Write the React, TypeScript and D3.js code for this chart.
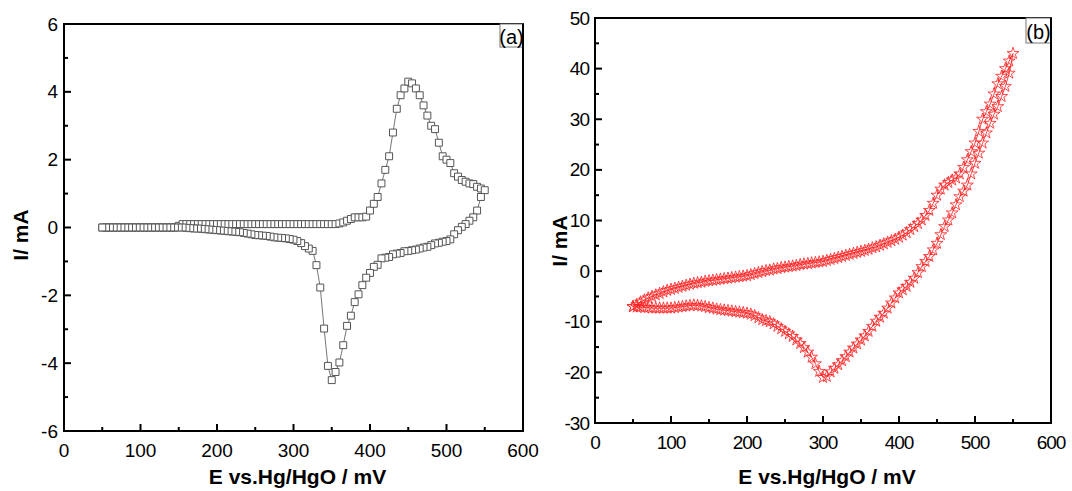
import React from 'react';
import * as d3 from 'd3';

// Potential sweep (mV)
const eForward = [50,55,60,65,70,75,80,85,90,95,100,105,110,115,120,125,130,135,140,145,150,155,160,165,170,175,180,185,190,195,200,205,210,215,220,225,230,235,240,245,250,255,260,265,270,275,280,285,290,295,300,305,310,315,320,325,330,335,340,345,350,355,360,365,370,375,380,385,390,395,400,405,410,415,420,425,430,435,440,445,450,455,460,465,470,475,480,485,490,495,500,505,510,515,520,525,530,535,540,545,550];
const eReverse = [545,540,535,530,525,520,515,510,505,500,495,490,485,480,475,470,465,460,455,450,445,440,435,430,425,420,415,410,405,400,395,390,385,380,375,370,365,360,355,350,345,340,335,330,325,320,315,310,305,300,295,290,285,280,275,270,265,260,255,250,245,240,235,230,225,220,215,210,205,200,195,190,185,180,175,170,165,160,155,150,145,140,135,130,125,120,115,110,105,100,95,90,85,80,75,70,65,60,55,50];

// Panel (a) current (mA)
const iForwardA = [0,0,0,0,0,0,0,0,0,0,0,0,0,0,0,0,0,0,0,0,
  0.05,
  0.1,0.1,0.1,0.1,0.1,0.1,0.1,0.1,0.1,0.1,0.1,0.1,0.1,0.1,0.1,0.1,0.1,0.1,0.1,0.1,0.1,0.1,0.1,0.1,0.1,0.1,0.1,0.1,0.1,0.1,0.1,0.1,0.1,0.1,0.1,0.1,0.1,0.1,0.1,0.1,0.1,
  0.12,0.15,0.2,0.25,0.3,0.3,0.3,0.32,0.5,0.7,0.9,1.3,1.7,2.1,2.8,3.5,3.9,4.1,4.3,4.25,4.1,3.9,3.6,3.3,3.0,2.9,2.5,2.1,2.0,1.9,1.6,1.5,1.4,1.35,1.3,1.28,1.2,1.15,1.1];
const iReverseA = [0.9,0.5,0.3,0.2,0.1,0.02,-0.08,-0.2,-0.35,-0.4,
  -0.42,-0.45,-0.47,-0.52,-0.57,-0.59,-0.62,-0.65,-0.67,-0.69,
  -0.7,-0.75,-0.77,-0.79,-0.87,-0.89,-0.91,-1.1,-1.16,-1.34,
  -1.48,-1.7,-1.97,-2.2,-2.6,-2.9,-3.47,-3.98,-4.26,-4.5,
  -4.08,-2.98,-1.77,-1.11,-0.69,-0.62,-0.55,-0.46,-0.4,-0.36,
  -0.34,-0.32,-0.31,-0.3,-0.29,-0.27,-0.25,-0.24,-0.23,-0.22,
  -0.2,-0.18,-0.16,-0.14,-0.13,-0.12,-0.11,-0.1,-0.09,-0.08,
  -0.07,-0.06,-0.05,-0.04,-0.03,-0.03,-0.02,-0.01,0,0,
  0,0,0,0,0,0,0,0,0,0,0,0,0,0,0,0,0,0,0,0];

// Panel (b) current (mA)
const iForwardB = [-7.0,-6.6,-6.1,-5.7,-5.3,-5.0,-4.7,-4.4,-4.1,-3.8,
  -3.6,-3.4,-3.2,-3.0,-2.8,-2.6,-2.4,-2.3,-2.2,-2.0,
  -1.9,-1.8,-1.7,-1.6,-1.5,-1.4,-1.3,-1.2,-1.1,-1.0,
  -0.9,-0.7,-0.5,-0.3,-0.1,0.1,0.2,0.4,0.5,0.7,
  0.8,0.9,1.0,1.1,1.3,1.4,1.5,1.6,1.7,1.8,
  1.9,2.1,2.3,2.5,2.7,2.9,3.1,3.3,3.5,3.7,
  3.9,4.1,4.3,4.6,4.8,5.1,5.4,5.7,6.0,6.3,
  6.7,7.1,7.6,8.2,8.8,9.4,10.1,11.0,12.0,13.4,
  15.0,16.2,17.0,17.5,18.0,18.4,19.2,20.5,22.0,23.6,
  25.3,27.6,30.0,31.5,33.0,35.0,37.0,38.5,40.0,41.5,
  43.0];
const iReverseB = [39.1,36.5,34.5,32.5,31.0,29.2,27.3,25.3,23.3,21.3,
  19.2,17.0,15.8,14.7,13.1,11.5,10.1,8.8,7.2,5.5,
  4.2,2.9,1.9,0.9,-0.3,-1.4,-2.2,-3.0,-3.7,-4.3,
  -5.3,-6.3,-7.3,-8.3,-9.1,-9.9,-10.9,-11.9,-12.8,-13.6,
  -14.4,-15.2,-16.0,-16.9,-17.7,-18.5,-19.2,-19.9,-20.8,-21.0,
  -19.8,-18.3,-17.0,-16.0,-15.1,-14.3,-13.6,-12.9,-12.4,-11.9,
  -11.4,-10.9,-10.4,-10.0,-9.8,-9.6,-9.2,-8.8,-8.5,-8.3,
  -8.2,-8.1,-8.0,-7.9,-7.8,-7.7,-7.6,-7.5,-7.3,-7.2,
  -7.0,-6.9,-6.8,-6.7,-6.8,-6.9,-7.0,-7.1,-7.2,-7.3,
  -7.3,-7.3,-7.3,-7.3,-7.3,-7.2,-7.2,-7.1,-7.1,-7.0];

const xTicks = [0,100,200,300,400,500,600];
const xTickLabels = ['0','100','200','300','400','500','600'];
const xMinor = [50,150,250,350,450,550];
const yTicksA = [-6,-4,-2,0,2,4,6];
const yTickLabelsA = ['-6','-4','-2','0','2','4','6'];
const yMinorA = [-5,-3,-1,1,3,5];
const yTicksB = [-30,-20,-10,0,10,20,30,40,50];
const yTickLabelsB = ['-30','-20','-10','0','10','20','30','40','50'];
const yMinorB = [-25,-15,-5,5,15,25,35,45];

const xTitle = 'E vs.Hg/HgO / mV';
const yTitle = 'I/ mA';

const FONT = 'Arial, "Liberation Sans", sans-serif';

type PanelProps = {
  left: number; right: number; top: number; bottom: number;
  yDomain: [number, number];
  yTicks: number[]; yTickLabels: string[]; yMinor: number[];
  series: { e: number[]; i: number[] }[];
  marker: 'square' | 'star';
  tag: string;
  tagBox: [number, number, number, number];
  xLabelY: number;
  yTitleX: number; yTitleY: number;
  letterSpacing: number;
};

function Panel(p: PanelProps) {
  const x = d3.scaleLinear().domain([0, 600]).range([p.left, p.right]);
  const y = d3.scaleLinear().domain(p.yDomain).range([p.bottom, p.top]);
  const pts: [number, number][] = [];
  p.series.forEach(s => s.e.forEach((e, k) => pts.push([e, s.i[k]])));
  const line = d3.line<[number, number]>().x(d => x(d[0])).y(d => y(d[1]));
  const isStar = p.marker === 'star';
  const sym = isStar ? d3.symbol(d3.symbolStar, 44)() : d3.symbol(d3.symbolSquare, 48)();
  const col = isStar ? '#ff2020' : '#555';
  const cx = (p.left + p.right) / 2 + 4;
  return (
    <g>
      <path d={line(pts) || ''} fill="none" stroke={isStar ? '#ff3030' : '#666'} strokeWidth={0.9} />
      {pts.map((d, k) => (
        <path key={k} d={sym || ''} transform={`translate(${x(d[0])},${y(d[1])})`}
          fill={isStar ? 'none' : '#fff'} stroke={col} strokeWidth={isStar ? 0.8 : 1} />
      ))}
      <rect x={p.left} y={p.top} width={p.right - p.left} height={p.bottom - p.top}
        fill="none" stroke="#000" strokeWidth={2} />
      {xTicks.map((t, k) => (
        <g key={'xt' + k}>
          <line x1={x(t)} x2={x(t)} y1={p.bottom} y2={p.bottom - 7} stroke="#000" strokeWidth={2} />
          <text x={x(t)} y={p.xLabelY} textAnchor="middle" dominantBaseline="central"
            fontSize={19} fontFamily={FONT} letterSpacing={p.letterSpacing}>{xTickLabels[k]}</text>
        </g>
      ))}
      {xMinor.map((t, k) => (
        <line key={'xm' + k} x1={x(t)} x2={x(t)} y1={p.bottom} y2={p.bottom - 4} stroke="#000" strokeWidth={2} />
      ))}
      {p.yTicks.map((t, k) => (
        <g key={'yt' + k}>
          <line x1={p.left} x2={p.left + 7} y1={y(t)} y2={y(t)} stroke="#000" strokeWidth={2} />
          <text x={p.left - 6} y={y(t)} textAnchor="end" dominantBaseline="central"
            fontSize={19} fontFamily={FONT} letterSpacing={p.letterSpacing}>{p.yTickLabels[k]}</text>
        </g>
      ))}
      {p.yMinor.map((t, k) => (
        <line key={'ym' + k} x1={p.left} x2={p.left + 4} y1={y(t)} y2={y(t)} stroke="#000" strokeWidth={2} />
      ))}
      <text x={cx} y={484} textAnchor="middle" fontSize={21} fontWeight="bold" fontFamily={FONT}>{xTitle}</text>
      <text transform={`translate(${p.yTitleX},${p.yTitleY}) rotate(-90)`} textAnchor="middle"
        dominantBaseline="central" fontSize={21} fontWeight="bold" fontFamily={FONT}>{yTitle}</text>
      <rect x={p.tagBox[0]} y={p.tagBox[1]} width={p.tagBox[2]} height={p.tagBox[3]}
        fill="#fff" stroke="#777" strokeWidth={1} />
      <text x={p.tagBox[0] + p.tagBox[2] / 2} y={p.tagBox[1] + p.tagBox[3] / 2 + 1} textAnchor="middle"
        dominantBaseline="central" fontSize={20} fontFamily={FONT}>{p.tag}</text>
      <line x1={p.right} x2={p.right} y1={p.top} y2={p.bottom} stroke="#000" strokeWidth={2} />
    </g>
  );
}

export default function App() {
  return (
    <svg width={1072} height={491} style={{ position: 'absolute', left: 0, top: 0, background: '#fff' }}>
      <rect x={0} y={0} width={1072} height={491} fill="#fff" />
      <Panel left={64} right={523} top={24} bottom={431} yDomain={[-6, 6]}
        yTicks={yTicksA} yTickLabels={yTickLabelsA} yMinor={yMinorA}
        series={[{ e: eForward, i: iForwardA }, { e: eReverse, i: iReverseA }]}
        marker="square" tag="(a)" tagBox={[500, 24, 23, 23]} xLabelY={450}
        yTitleX={20} yTitleY={235} letterSpacing={0} />
      <Panel left={595} right={1051} top={18} bottom={423} yDomain={[-30, 50]}
        yTicks={yTicksB} yTickLabels={yTickLabelsB} yMinor={yMinorB}
        series={[{ e: eForward, i: iForwardB }, { e: eReverse, i: iReverseB }]}
        marker="star" tag="(b)" tagBox={[1026, 18, 25, 25]} xLabelY={442}
        yTitleX={559} yTitleY={241} letterSpacing={-1} />
    </svg>
  );
}
